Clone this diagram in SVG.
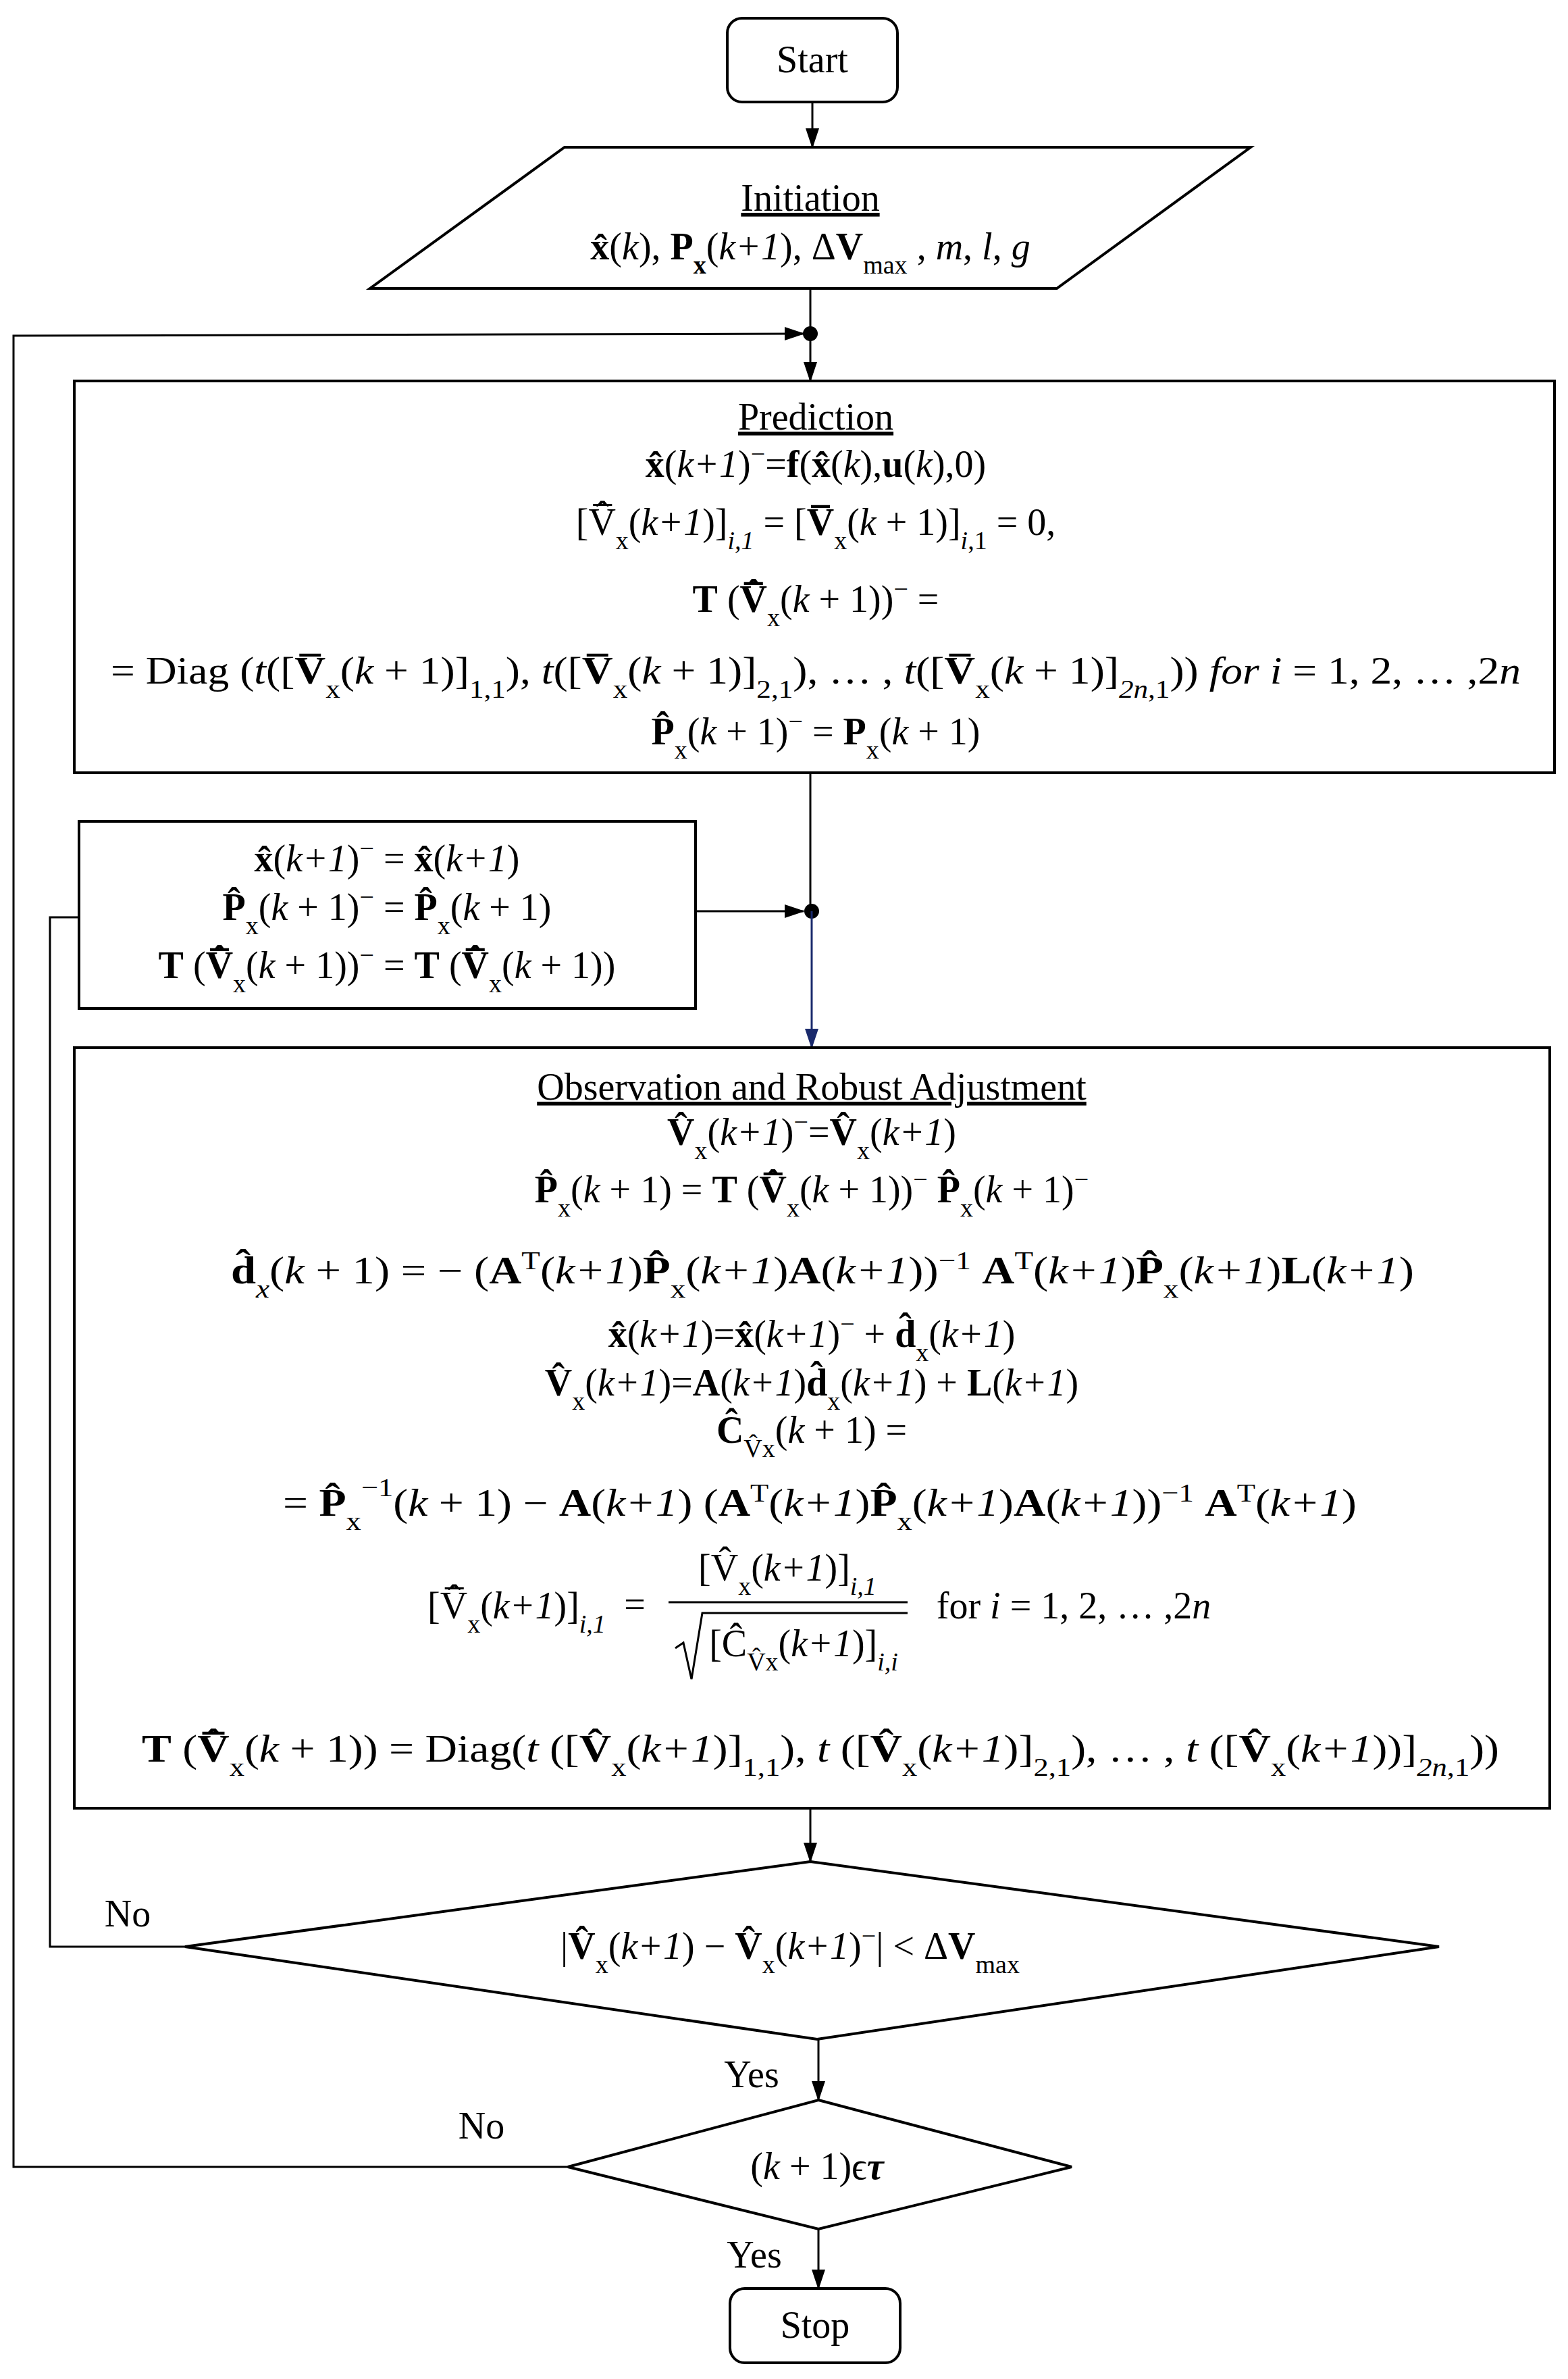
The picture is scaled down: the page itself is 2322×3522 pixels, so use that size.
<svg xmlns="http://www.w3.org/2000/svg" width="2322" height="3522" viewBox="0 0 2322 3522">
<style>
text{font-family:"Liberation Serif","DejaVu Serif",serif;font-size:56px;fill:#000;text-anchor:middle}
.b{font-weight:bold}.i{font-style:italic}
.s{font-size:38px;baseline-shift:sub}.p{font-size:38px;baseline-shift:super}
.u{text-decoration:underline}
.sh{fill:#fff;stroke:#000;stroke-width:4}
.ln{fill:none;stroke:#000;stroke-width:3}
</style>
<defs>
<marker id="a2" markerWidth="30" markerHeight="30" refX="28" refY="10" orient="auto" markerUnits="userSpaceOnUse" viewBox="0 0 30 20"><path d="M0,0 L30,10 L0,20z" fill="#000"/></marker>
<marker id="ab" markerWidth="30" markerHeight="30" refX="28" refY="10" orient="auto" markerUnits="userSpaceOnUse" viewBox="0 0 30 20"><path d="M0,0 L30,10 L0,20z" fill="#1a2a6c"/></marker>
</defs>
<rect width="2322" height="3522" fill="#fff"/>
<g id="connectors">
<line class="ln" x1="1203" y1="151" x2="1203" y2="218" marker-end="url(#a2)"/>
<line class="ln" x1="1200" y1="427" x2="1200" y2="494"/>
<line class="ln" x1="1200" y1="494" x2="1200" y2="564" marker-end="url(#a2)"/>
<polyline class="ln" points="841,3208 20,3208 20,497 1190,494" marker-end="url(#a2)"/>
<circle cx="1200" cy="494" r="11" fill="#000"/>
<line class="ln" x1="1200" y1="1144" x2="1200" y2="1349"/>
<line class="ln" x1="1030" y1="1349" x2="1190" y2="1349" marker-end="url(#a2)"/>
<circle cx="1202" cy="1349" r="11" fill="#000"/>
<line x1="1202" y1="1349" x2="1202" y2="1551" stroke="#1a2a6c" stroke-width="3" marker-end="url(#ab)"/>
<polyline class="ln" points="117,1358 74,1358 74,2882 274,2882"/>
<line class="ln" x1="1200" y1="2677" x2="1200" y2="2756" marker-end="url(#a2)"/>
<line class="ln" x1="1212" y1="3019" x2="1212" y2="3109" marker-end="url(#a2)"/>
<line class="ln" x1="1212" y1="3300" x2="1212" y2="3388" marker-end="url(#a2)"/>
<text x="189" y="2852">No</text>
<text x="713" y="3166">No</text>
<text x="1113" y="3090">Yes</text>
<text x="1117" y="3357">Yes</text>
</g>
<g id="start">
<rect class="sh" x="1077" y="27" width="252" height="124" rx="22"/>
<text x="1203" y="107">Start</text>
</g>
<g id="init">
<polygon class="sh" points="836,218 1852,218 1565,427 548,427"/>
<text x="1200" y="312" class="u">Initiation</text>
<text x="1200" y="384"><tspan class="b">x̂</tspan>(<tspan class="i">k</tspan>), <tspan class="b">P</tspan><tspan class="s b">x</tspan>(<tspan class="i">k+1</tspan>), Δ<tspan class="b">V</tspan><tspan class="s">max</tspan> , <tspan class="i">m</tspan>, <tspan class="i">l</tspan>, <tspan class="i">g</tspan></text>
</g>
<g id="prediction">
<rect class="sh" x="110" y="564" width="2192" height="580"/>
<text x="1208" y="636" class="u">Prediction</text>
<text x="1208" y="706"><tspan class="b">x̂</tspan>(<tspan class="i">k+1</tspan>)<tspan class="p">−</tspan>=<tspan class="b">f</tspan>(<tspan class="b">x̂</tspan>(<tspan class="i">k</tspan>),<tspan class="b">u</tspan>(<tspan class="i">k</tspan>),0)</text>
<text x="1208" y="792">[V̂̅<tspan class="s">x</tspan>(<tspan class="i">k+1</tspan>)]<tspan class="s i">i,1</tspan> = [<tspan class="b">V̅</tspan><tspan class="s">x</tspan>(<tspan class="i">k</tspan> + 1)]<tspan class="s"><tspan class="i">i</tspan>,1</tspan> = 0,</text>
<text x="1208" y="906"><tspan class="b">T</tspan> (<tspan class="b">V̂̅</tspan><tspan class="s">x</tspan>(<tspan class="i">k</tspan> + 1))<tspan class="p">−</tspan> =</text>
<text x="1208" y="1012" textLength="2088" lengthAdjust="spacingAndGlyphs">= Diag (<tspan class="i">t</tspan>([<tspan class="b">V̅</tspan><tspan class="s">x</tspan>(<tspan class="i">k</tspan> + 1)]<tspan class="s">1,1</tspan>), <tspan class="i">t</tspan>([<tspan class="b">V̅</tspan><tspan class="s">x</tspan>(<tspan class="i">k</tspan> + 1)]<tspan class="s">2,1</tspan>), … , <tspan class="i">t</tspan>([<tspan class="b">V̅</tspan><tspan class="s">x</tspan>(<tspan class="i">k</tspan> + 1)]<tspan class="s"><tspan class="i">2n</tspan>,1</tspan>)) <tspan class="i">for i</tspan> = 1, 2, … ,2<tspan class="i">n</tspan></text>
<text x="1208" y="1102"><tspan class="b">P̂</tspan><tspan class="s">x</tspan>(<tspan class="i">k</tspan> + 1)<tspan class="p">−</tspan> = <tspan class="b">P</tspan><tspan class="s">x</tspan>(<tspan class="i">k</tspan> + 1)</text>
</g>
<g id="update">
<rect class="sh" x="117" y="1216" width="913" height="277"/>
<text x="573" y="1290"><tspan class="b">x̂</tspan>(<tspan class="i">k+1</tspan>)<tspan class="p">−</tspan> = <tspan class="b">x̂</tspan>(<tspan class="i">k+1</tspan>)</text>
<text x="573" y="1362"><tspan class="b">P̂</tspan><tspan class="s">x</tspan>(<tspan class="i">k</tspan> + 1)<tspan class="p">−</tspan> = <tspan class="b">P̂</tspan><tspan class="s">x</tspan>(<tspan class="i">k</tspan> + 1)</text>
<text x="573" y="1448"><tspan class="b">T</tspan> (<tspan class="b">V̂̅</tspan><tspan class="s">x</tspan>(<tspan class="i">k</tspan> + 1))<tspan class="p">−</tspan> = <tspan class="b">T</tspan> (<tspan class="b">V̂̅</tspan><tspan class="s">x</tspan>(<tspan class="i">k</tspan> + 1))</text>
</g>
<g id="observation">
<rect class="sh" x="110" y="1551" width="2185" height="1126"/>
<text x="1202" y="1628" class="u">Observation and Robust Adjustment</text>
<text x="1202" y="1695"><tspan class="b">V̂</tspan><tspan class="s">x</tspan>(<tspan class="i">k+1</tspan>)<tspan class="p">−</tspan>=<tspan class="b">V̂</tspan><tspan class="s">x</tspan>(<tspan class="i">k+1</tspan>)</text>
<text x="1202" y="1780"><tspan class="b">P̂</tspan><tspan class="s">x</tspan>(<tspan class="i">k</tspan> + 1) = <tspan class="b">T</tspan> (<tspan class="b">V̂̅</tspan><tspan class="s">x</tspan>(<tspan class="i">k</tspan> + 1))<tspan class="p">−</tspan> <tspan class="b">P̂</tspan><tspan class="s">x</tspan>(<tspan class="i">k</tspan> + 1)<tspan class="p">−</tspan></text>
<text x="1218" y="1900" textLength="1752" lengthAdjust="spacingAndGlyphs"><tspan class="b">d̂</tspan><tspan class="s i">x</tspan>(<tspan class="i">k</tspan> + 1) = − (<tspan class="b">A</tspan><tspan class="p">T</tspan>(<tspan class="i">k+1</tspan>)<tspan class="b">P̂</tspan><tspan class="s">x</tspan>(<tspan class="i">k+1</tspan>)<tspan class="b">A</tspan>(<tspan class="i">k+1</tspan>))<tspan class="p">−1</tspan> <tspan class="b">A</tspan><tspan class="p">T</tspan>(<tspan class="i">k+1</tspan>)<tspan class="b">P̂</tspan><tspan class="s">x</tspan>(<tspan class="i">k+1</tspan>)<tspan class="b">L</tspan>(<tspan class="i">k+1</tspan>)</text>
<text x="1202" y="1994"><tspan class="b">x̂</tspan>(<tspan class="i">k+1</tspan>)=<tspan class="b">x̂</tspan>(<tspan class="i">k+1</tspan>)<tspan class="p">−</tspan> + <tspan class="b">d̂</tspan><tspan class="s">x</tspan>(<tspan class="i">k+1</tspan>)</text>
<text x="1202" y="2066"><tspan class="b">V̂</tspan><tspan class="s">x</tspan>(<tspan class="i">k+1</tspan>)=<tspan class="b">A</tspan>(<tspan class="i">k+1</tspan>)<tspan class="b">d̂</tspan><tspan class="s">x</tspan>(<tspan class="i">k+1</tspan>) + <tspan class="b">L</tspan>(<tspan class="i">k+1</tspan>)</text>
<text x="1202" y="2136"><tspan class="b">Ĉ</tspan><tspan class="s">V̂x</tspan>(<tspan class="i">k</tspan> + 1) =</text>
<text x="1214" y="2244" textLength="1590" lengthAdjust="spacingAndGlyphs">= <tspan class="b">P̂</tspan><tspan class="s">x</tspan><tspan class="p" dy="-8">−1</tspan><tspan dy="8">(</tspan><tspan class="i">k</tspan> + 1) − <tspan class="b">A</tspan>(<tspan class="i">k+1</tspan>) (<tspan class="b">A</tspan><tspan class="p">T</tspan>(<tspan class="i">k+1</tspan>)<tspan class="b">P̂</tspan><tspan class="s">x</tspan>(<tspan class="i">k+1</tspan>)<tspan class="b">A</tspan>(<tspan class="i">k+1</tspan>))<tspan class="p">−1</tspan> <tspan class="b">A</tspan><tspan class="p">T</tspan>(<tspan class="i">k+1</tspan>)</text>
<text x="765" y="2396">[V̂̅<tspan class="s">x</tspan>(<tspan class="i">k+1</tspan>)]<tspan class="s i">i,1</tspan></text>
<text x="940" y="2394">=</text>
<text x="1166" y="2340">[V̂<tspan class="s">x</tspan>(<tspan class="i">k+1</tspan>)]<tspan class="s i">i,1</tspan></text>
<line x1="990" y1="2372" x2="1344" y2="2372" stroke="#000" stroke-width="3"/>
<polyline class="ln" points="1000,2440 1012,2432 1024,2486 1040,2388 1344,2388" stroke-width="2"/>
<text x="1190" y="2452">[Ĉ<tspan class="s">V̂x</tspan>(<tspan class="i">k+1</tspan>)]<tspan class="s i">i,i</tspan></text>
<text x="1590" y="2396">for <tspan class="i">i</tspan> = 1, 2, … ,2<tspan class="i">n</tspan></text>
<text x="1215" y="2608" textLength="2010" lengthAdjust="spacingAndGlyphs"><tspan class="b">T</tspan> (<tspan class="b">V̂̅</tspan><tspan class="s">x</tspan>(<tspan class="i">k</tspan> + 1)) = Diag(<tspan class="i">t</tspan> ([<tspan class="b">V̂</tspan><tspan class="s">x</tspan>(<tspan class="i">k+1</tspan>)]<tspan class="s">1,1</tspan>), <tspan class="i">t</tspan> ([<tspan class="b">V̂</tspan><tspan class="s">x</tspan>(<tspan class="i">k+1</tspan>)]<tspan class="s">2,1</tspan>), … , <tspan class="i">t</tspan> ([<tspan class="b">V̂</tspan><tspan class="s">x</tspan>(<tspan class="i">k+1</tspan>))]<tspan class="s"><tspan class="i">2n</tspan>,1</tspan>))</text>
</g>
<g id="decision1">
<polygon class="sh" points="1200,2756 2131,2882 1210,3019 274,2882"/>
<text x="1170" y="2900">|<tspan class="b">V̂</tspan><tspan class="s">x</tspan>(<tspan class="i">k+1</tspan>) − <tspan class="b">V̂</tspan><tspan class="s">x</tspan>(<tspan class="i">k+1</tspan>)<tspan class="p">−</tspan>| &lt; Δ<tspan class="b">V</tspan><tspan class="s">max</tspan></text>
</g>
<g id="decision2">
<polygon class="sh" points="1212,3109 1587,3208 1212,3300 841,3208"/>
<text x="1210" y="3226">(<tspan class="i">k</tspan> + 1)ϵ<tspan class="i b">τ</tspan></text>
</g>
<g id="stop">
<rect class="sh" x="1081" y="3388" width="252" height="110" rx="22"/>
<text x="1207" y="3461">Stop</text>
</g>
</svg>
